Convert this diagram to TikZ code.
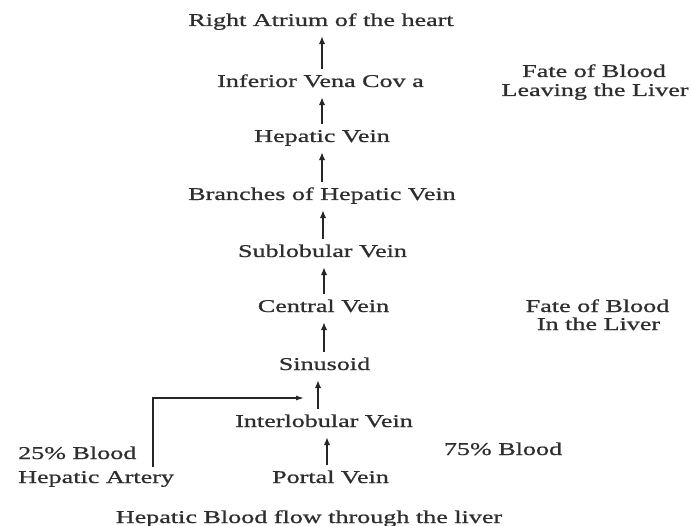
\documentclass[tikz,border=0pt]{standalone}
\usepackage{fontspec}
\setmainfont{Liberation Serif}[FakeStretch=1.45,FakeBold=0.9]
\usetikzlibrary{arrows.meta}
\begin{document}
\begin{tikzpicture}[x=1pt,y=-1pt,
  lbl/.style={font=\fontsize{18}{20}\selectfont, text=black!82, inner sep=0pt, text height=12pt, text depth=4pt, anchor=base},
  arr/.style={draw=black!85, line width=1.5pt, -{Latex[length=8pt,width=6.5pt]}, shorten >=6pt, shorten <=6pt},
  harr/.style={draw=black!85, line width=1.2pt, -{Latex[length=8pt,width=5pt]}}]
\useasboundingbox (0,0) rectangle (692,526);
\node[lbl] (ra)   at (321,26)  {Right Atrium of the heart};
\node[lbl] (ivc)  at (320.5,87) {Inferior Vena Cov a};
\node[lbl] (hv)   at (322,142) {Hepatic Vein};
\node[lbl] (bhv)  at (322,200) {Branches of Hepatic Vein};
\node[lbl] (sub)  at (322.5,257) {Sublobular Vein};
\node[lbl] (cv)   at (323.5,312) {Central Vein};
\node[lbl] (sin)  at (324.5,370) {Sinusoid};
\node[lbl] (il)   at (324,427) {Interlobular Vein};
\node[lbl] (pv)   at (330.5,483) {Portal Vein};
\node[lbl, anchor=base west] (b25) at (18,459) {25\% Blood};
\node[lbl, anchor=base west] (ha)  at (18,483) {Hepatic Artery};
\node[lbl] (b75)  at (503,455) {75\% Blood};
\node[lbl] (f1a)  at (594,77)  {Fate of Blood};
\node[lbl] (f1b)  at (595,96)  {Leaving the Liver};
\node[lbl] (f2a)  at (597.5,312) {Fate of Blood};
\node[lbl] (f2b)  at (598.5,330) {In the Liver};
\node[lbl] (cap)  at (309,523) {Hepatic Blood flow through the liver};
\draw[arr] (ivc.north -| 322,0) -- (ra.south -| 322,0);
\draw[arr] (hv.north -| 322,0) -- (ivc.south -| 322,0);
\draw[arr] (bhv.north -| 322,0) -- (hv.south -| 322,0);
\draw[arr] (sub.north -| 323,0) -- (bhv.south -| 323,0);
\draw[arr] (cv.north -| 324,0) -- (sub.south -| 324,0);
\draw[arr] (sin.north -| 324,0) -- (cv.south -| 324,0);
\draw[arr] (il.north -| 318,0) -- (sin.south -| 318,0);
\draw[arr] (pv.north -| 327,0) -- (il.south -| 327,0);
\coordinate (hastart) at (153,467);
\coordinate (haend) at (304,398);
\draw[harr] (hastart) |- (haend);
\end{tikzpicture}
\end{document}
